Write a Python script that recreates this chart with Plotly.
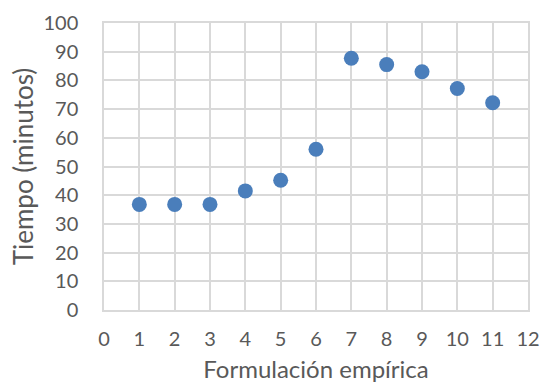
import plotly.graph_objects as go

# Formulación empírica vs tiempo
formulacion = [1, 2, 3, 4, 5, 6, 7, 8, 9, 10, 11]
tiempo = [36.8, 36.8, 36.8, 41.5, 45.2, 56.0, 87.7, 85.5, 83.0, 77.2, 72.2]

x_ticks = list(range(0, 13))
y_ticks = list(range(0, 101, 10))

grid = "#d9d9d9"
txt = "#595959"
fnt = "Lato, Open Sans, sans-serif"

fig = go.Figure(go.Scatter(
    x=formulacion, y=tiempo,
    mode="markers",
    marker=dict(color="#4a7ebb", size=15, line=dict(width=0)),
    showlegend=False,
))

fig.update_layout(
    width=541, height=391,
    margin=dict(l=104, r=13, t=23, b=81),
    paper_bgcolor="white", plot_bgcolor="white",
    font=dict(family=fnt, size=20, color=txt),
    xaxis=dict(
        range=[0, 12], tickvals=x_ticks, ticktext=[str(v) for v in x_ticks],
        showgrid=True, gridcolor=grid, gridwidth=1.5,
        showline=True, linecolor=grid, linewidth=1.5, mirror=True,
        zeroline=False, automargin=False,
        ticks="outside", ticklen=10, tickcolor="rgba(0,0,0,0)",
        tickfont=dict(size=20, color=txt),
        title=dict(text="Formulación empírica", font=dict(size=24, color=txt), standoff=12),
    ),
    yaxis=dict(
        range=[0, 100], tickvals=y_ticks, ticktext=[str(v) for v in y_ticks],
        showgrid=True, gridcolor=grid, gridwidth=1.5,
        showline=True, linecolor=grid, linewidth=1.5, mirror=True,
        zeroline=False, automargin=False,
        ticks="outside", ticklen=20, tickcolor="rgba(0,0,0,0)",
        tickfont=dict(size=20, color=txt),
        title=dict(text="Tiempo (minutos)", font=dict(size=26, color=txt), standoff=2),
    ),
)

# drop the browser's default 8px body margin so the figure fills the window
fig.write_html(
    "out.html",
    config={"displayModeBar": False},
    post_script="document.body.style.margin='0';document.body.style.overflow='hidden';",
)
